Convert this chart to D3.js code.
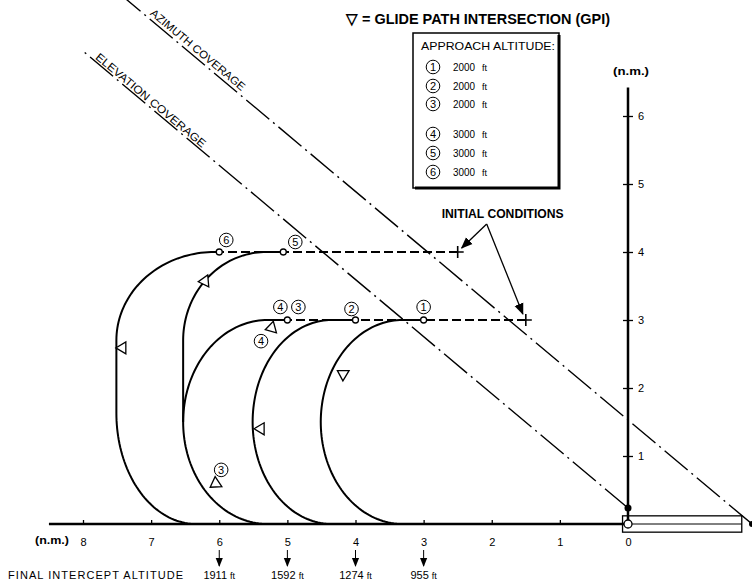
<!DOCTYPE html>
<html>
<head>
<meta charset="utf-8">
<script src="https://cdn.jsdelivr.net/npm/d3@7"></script>
<style>
  body { margin: 0; background: #fff; }
  svg { display: block; font-family: 'Liberation Sans', Arial, sans-serif; }
</style>
</head>
<body>
<svg id="chart" width="752" height="588"></svg>
<script>
// ---- data (n.m.) ----
const xTicks = [0, 1, 2, 3, 4, 5, 6, 7, 8];
const yTicks = [1, 2, 3, 4, 5, 6];
const finalX = [6, 5, 4, 3];
const finalAlt = ['1911', '1592', '1274', '955'];
const legendIds = [1, 2, 3, 4, 5, 6];
const legendAlt = ['2000', '2000', '2000', '3000', '3000', '3000'];
const initPts = [[2.5, 4], [1.5, 3]];
const turnPts = [[3.0, 3], [4.0, 3], [5.0, 3], [5.06, 4], [6.0, 4]];
const dashedLegs = [[1.5, 5.0, 3], [2.5, 6.0, 4]];   // x from, x to, y
// ground tracks: ['L', x0, y0, x1, y1] or ['A', cx, cy, rx, ry, t0, t1]
const tracks = [
  [['L', 3.0, 3, 3.31, 3], ['A', 3.31, 1.5, 1.2, 1.5, 90, 270]],
  [['L', 4.0, 3, 4.35, 3], ['A', 4.35, 1.5, 1.16, 1.5, 90, 270]],
  [['L', 5.0, 3, 5.29, 3], ['A', 5.29, 1.5, 1.24, 1.5, 90, 270]],
  [['L', 5.06, 4, 5.31, 4], ['A', 5.31, 2.7, 1.22, 1.3, 90, 180], ['L', 6.53, 2.7, 6.53, 1.5]],
  [['L', 6.0, 4, 6.07, 4], ['A', 6.07, 2.7, 1.44, 1.3, 90, 180], ['L', 7.51, 2.7, 7.51, 1.63],
   ['A', 6.34, 1.63, 1.17, 1.63, 180, 270]]
];
// glide path intersections: x, y, heading of the marker tip (deg, screen)
const gpiPts = [[4.19, 2.21, -149], [5.40, 1.40, 180], [6.06, 0.59, 146],
                [5.24, 2.88, 165], [6.22, 3.57, 175], [7.43, 2.59, 180]];
const azimuthLine = [[-1.82, 0], [7.5, 7.83]];
const elevationLine = [[0, 0.235], [8.0, 6.955]];
const runway = [0.08, -1.67, 0.12];   // x start, x end, half width

// ---- layout ----
const svg = d3.select('#chart');
const x = d3.scaleLinear().domain([0, 8]).range([628, 83]);
const y = d3.scaleLinear().domain([0, 6]).range([524, 116]);
const line = d3.line().x(d => x(d[0])).y(d => y(d[1]));

// coverage lines
[azimuthLine, elevationLine].forEach(ln => {
  svg.append('path').attr('d', line(ln))
    .attr('fill', 'none').attr('stroke', '#000').attr('stroke-width', 1.4)
    .attr('stroke-dasharray', '30,5,2,5');
});
svg.append('circle').attr('cx', x(azimuthLine[0][0])).attr('cy', y(0)).attr('r', 3).attr('fill', '#000');

const rot = Math.atan2(y(azimuthLine[0][1]) - y(azimuthLine[1][1]), x(azimuthLine[0][0]) - x(azimuthLine[1][0])) * 180 / Math.PI;

function coverageLabel(ln, atX, off, txt, len) {
  const yy = ln[0][1] + (ln[1][1] - ln[0][1]) * (atX - ln[0][0]) / (ln[1][0] - ln[0][0]);
  svg.append('text')
    .attr('transform', `translate(${x(atX) + off},${y(yy) - off}) rotate(${rot})`)
    .attr('font-size', 11).attr('textLength', len).attr('lengthAdjust', 'spacingAndGlyphs')
    .text(txt);
}
coverageLabel(azimuthLine, 7.06, 2.5, 'AZIMUTH COVERAGE', 120);
coverageLabel(elevationLine, 7.85, 1.5, 'ELEVATION COVERAGE', 140);

// axes
svg.append('line').attr('x1', x(8.5)).attr('x2', x(0)).attr('y1', y(0)).attr('y2', y(0))
  .attr('stroke', '#000').attr('stroke-width', 2.5);
svg.append('line').attr('x1', x(0)).attr('x2', x(runway[1])).attr('y1', y(0)).attr('y2', y(0))
  .attr('stroke', '#000').attr('stroke-width', 1);
svg.append('line').attr('x1', x(0)).attr('x2', x(0)).attr('y1', y(0)).attr('y2', y(6.42))
  .attr('stroke', '#000').attr('stroke-width', 2.5);

const xAxis = d3.axisBottom(x).tickValues(xTicks).tickSize(-5).tickPadding(13).tickFormat(d3.format('d'));
const gx = svg.append('g').attr('transform', `translate(0,${y(0) + 1})`).call(xAxis);
gx.select('.domain').remove();
gx.selectAll('line').attr('stroke-width', 1.3);
gx.selectAll('text').attr('font-size', 11).attr('font-family', null).attr('fill', '#000');

const yAxis = d3.axisRight(y).tickValues(yTicks).tickSize(5).tickPadding(5).tickFormat(d3.format('d'));
const gy = svg.append('g').attr('transform', `translate(${x(0)},0)`).call(yAxis);
gy.select('.domain').remove();
gy.selectAll('line').attr('x1', -5).attr('stroke-width', 1.3);
gy.selectAll('text').attr('font-size', 11).attr('font-family', null).attr('fill', '#000');

svg.append('text').attr('x', x(0) + 3).attr('y', y(6.42) - 12).attr('text-anchor', 'middle')
  .attr('font-size', 11).attr('font-weight', 'bold').attr('textLength', 36).attr('lengthAdjust', 'spacingAndGlyphs')
  .text('(n.m.)');
svg.append('text').attr('x', 35).attr('y', y(0) + 20)
  .attr('font-size', 11).attr('font-weight', 'bold').attr('textLength', 34).attr('lengthAdjust', 'spacingAndGlyphs')
  .text('(n.m.)');

// runway
svg.append('rect').attr('x', x(runway[0])).attr('y', y(runway[2]))
  .attr('width', x(runway[1]) - x(runway[0])).attr('height', y(-runway[2]) - y(runway[2]))
  .attr('fill', 'none').attr('stroke', '#000').attr('stroke-width', 1.3);
svg.append('circle').attr('cx', x(0)).attr('cy', y(0)).attr('r', 4)
  .attr('fill', '#fff').attr('stroke', '#000').attr('stroke-width', 1.3);
svg.append('circle').attr('cx', x(elevationLine[0][0])).attr('cy', y(elevationLine[0][1])).attr('r', 3.5).attr('fill', '#000');

// dashed approach legs
dashedLegs.forEach(d => {
  svg.append('line').attr('x1', x(d[0])).attr('x2', x(d[1])).attr('y1', y(d[2])).attr('y2', y(d[2]))
    .attr('stroke', '#000').attr('stroke-width', 1.5).attr('stroke-dasharray', '9,4')
    .attr('shape-rendering', 'crispEdges');
});

// tracks
function trackPoints(pieces) {
  const pts = [];
  pieces.forEach(p => {
    if (p[0] === 'L') {
      pts.push([p[1], p[2]], [p[3], p[4]]);
    } else {
      const [, cx, cy, rx, ry, t0, t1] = p;
      for (let t = t0; t <= t1 + 0.001; t += 2) {
        const r = t * Math.PI / 180;
        pts.push([cx - rx * Math.cos(r), cy + ry * Math.sin(r)]);
      }
    }
  });
  return pts;
}
tracks.forEach(t => {
  svg.append('path').attr('d', line(trackPoints(t)))
    .attr('fill', 'none').attr('stroke', '#000').attr('stroke-width', 2);
});

// turn markers
svg.selectAll('.turn').data(turnPts).enter().append('circle')
  .attr('cx', d => x(d[0])).attr('cy', d => y(d[1])).attr('r', 3)
  .attr('fill', '#fff').attr('stroke', '#000').attr('stroke-width', 1.3);

// GPI triangles
svg.selectAll('.gpi').data(gpiPts).enter().append('path')
  .attr('d', 'M6,0 L-4,-6 L-4,6 Z')
  .attr('transform', d => `translate(${x(d[0])},${y(d[1])}) rotate(${d[2]})`)
  .attr('fill', '#fff').attr('stroke', '#000').attr('stroke-width', 1.3);

// circled numbers
function circled(cx, cy, n, r) {
  const g = svg.append('g').attr('transform', `translate(${cx},${cy})`);
  g.append('circle').attr('r', r).attr('fill', '#fff').attr('stroke', '#000').attr('stroke-width', 1);
  g.append('text').attr('y', 3.8).attr('text-anchor', 'middle').attr('font-size', 11).text(n);
}
const labelSpots = [[0, 1, 0, -13], [1, 2, -4, -11], [2, 4, -7, -13], [2, 3, 11, -13], [3, 5, 12, -10], [4, 6, 7, -12]];
labelSpots.forEach(s => circled(x(turnPts[s[0]][0]) + s[2], y(turnPts[s[0]][1]) + s[3], s[1], 6.8));
circled(x(gpiPts[3][0]) - 10, y(gpiPts[3][1]) + 13, 4, 6.8);
circled(x(gpiPts[2][0]) + 6, y(gpiPts[2][1]) - 14, 3, 6.8);

// initial conditions
const defs = svg.append('defs');
defs.append('marker').attr('id', 'ah').attr('viewBox', '0 0 10 10').attr('refX', 9).attr('refY', 5)
  .attr('markerWidth', 9).attr('markerHeight', 9).attr('orient', 'auto')
  .append('path').attr('d', 'M0,1 L10,5 L0,9 Z').attr('fill', '#000');
initPts.forEach(d => {
  const px = x(d[0]), py = y(d[1]);
  svg.append('path').attr('d', `M${px - 6},${py} H${px + 6} M${px},${py - 6} V${py + 6}`)
    .attr('stroke', '#000').attr('stroke-width', 1.6);
});
const apex = [x(initPts[0][0]) + 29, y(initPts[0][1]) - 28];
svg.append('text').attr('x', apex[0] - 45).attr('y', apex[1] - 6)
  .attr('font-size', 13).attr('font-weight', 'bold').attr('textLength', 122).attr('lengthAdjust', 'spacingAndGlyphs')
  .text('INITIAL CONDITIONS');
initPts.forEach((d, i) => {
  const tx = x(d[0]) + (i === 0 ? 4 : -3), ty = y(d[1]) - (i === 0 ? 4 : 6);
  svg.append('line').attr('x1', apex[0]).attr('y1', apex[1]).attr('x2', tx).attr('y2', ty)
    .attr('stroke', '#000').attr('stroke-width', 1.3).attr('marker-end', 'url(#ah)');
});

// title
svg.append('text').attr('x', 346).attr('y', 24).attr('font-size', 14.5).attr('font-weight', 'bold')
  .attr('textLength', 264).attr('lengthAdjust', 'spacingAndGlyphs')
  .text('\u25BD = GLIDE PATH INTERSECTION (GPI)');

// legend box
const lg = svg.append('g').attr('transform', 'translate(413,33)');
lg.append('rect').attr('width', 146).attr('height', 155).attr('fill', '#fff')
  .attr('stroke', '#000').attr('stroke-width', 1.5);
lg.append('path').attr('d', 'M146,2 V155 H2').attr('fill', 'none').attr('stroke', '#000').attr('stroke-width', 3);
lg.append('text').attr('x', 8).attr('y', 17).attr('font-size', 11.5)
  .attr('textLength', 134).attr('lengthAdjust', 'spacingAndGlyphs').text('APPROACH ALTITUDE:');
const rowY = [34, 53, 71, 101, 120, 139];
legendIds.forEach((id, i) => {
  const g = lg.append('g').attr('transform', `translate(20,${rowY[i]})`);
  g.append('circle').attr('r', 6.8).attr('fill', '#fff').attr('stroke', '#000').attr('stroke-width', 1);
  g.append('text').attr('y', 3.8).attr('text-anchor', 'middle').attr('font-size', 11).text(id);
  g.append('text').attr('x', 20).attr('y', 4).attr('font-size', 11.5)
    .attr('textLength', 22).attr('lengthAdjust', 'spacingAndGlyphs').text(legendAlt[i]);
  g.append('text').attr('x', 49).attr('y', 4).attr('font-size', 9).text('ft');
});

// final intercept altitudes
svg.append('text').attr('x', 8).attr('y', 579).attr('font-size', 11)
  .attr('textLength', 175).attr('lengthAdjust', 'spacing').text('FINAL INTERCEPT ALTITUDE');
finalX.forEach((v, i) => {
  svg.append('line').attr('x1', x(v)).attr('x2', x(v)).attr('y1', 550).attr('y2', 566)
    .attr('stroke', '#000').attr('stroke-width', 1).attr('marker-end', 'url(#ah)');
  const t = svg.append('text').attr('x', x(v)).attr('y', 579).attr('text-anchor', 'middle').attr('font-size', 11);
  t.append('tspan').text(finalAlt[i] + ' ');
  t.append('tspan').attr('font-size', 9).text('ft');
});
</script>
</body>
</html>
